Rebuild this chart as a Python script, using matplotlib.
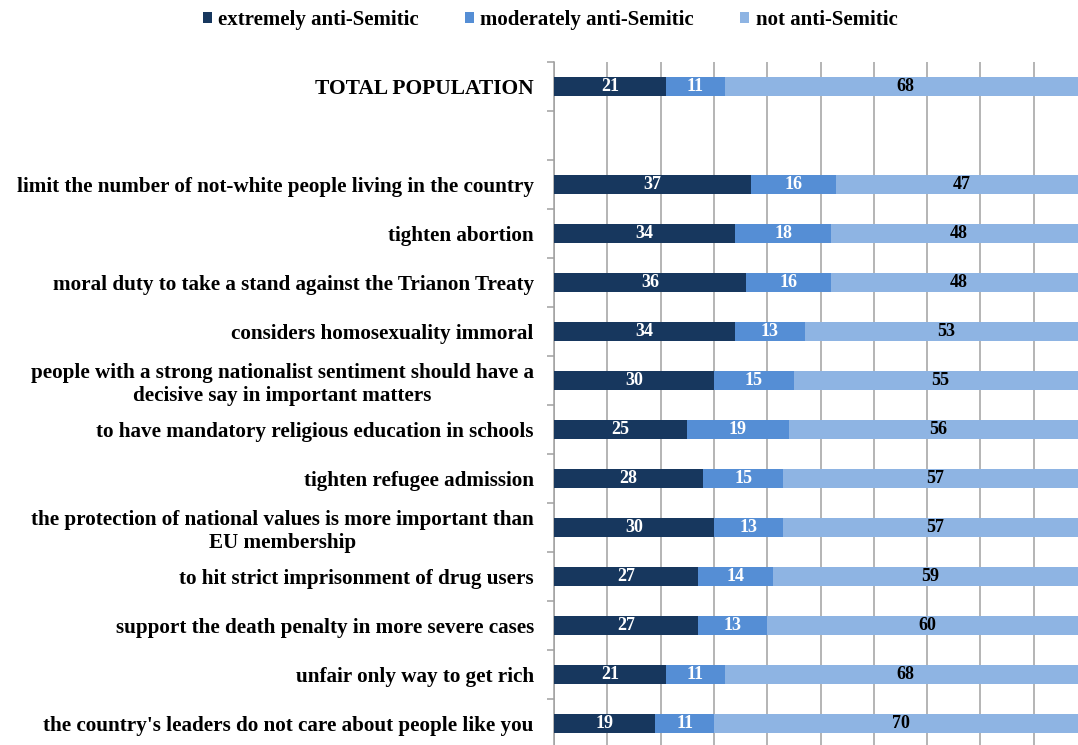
import numpy as np
import matplotlib
matplotlib.use("Agg")
import matplotlib.pyplot as plt
from matplotlib.patches import Patch

# Survey items, top to bottom (blank row separates the total from the items)
categories = [
    "TOTAL POPULATION",
    "",
    "limit the number of not-white people living in the country",
    "tighten abortion",
    "moral duty to take a stand against the Trianon Treaty",
    "considers homosexuality immoral",
    "people with a strong nationalist sentiment should have a\ndecisive say in important matters",
    "to have mandatory religious education in schools",
    "tighten refugee admission",
    "the protection of national values is more important than\nEU membership",
    "to hit strict imprisonment of drug users",
    "support the death penalty in more severe cases",
    "unfair only way to get rich",
    "the country's leaders do not care about people like you",
]

extremely = [21, np.nan, 37, 34, 36, 34, 30, 25, 28, 30, 27, 27, 21, 19]
moderately = [11, np.nan, 16, 18, 16, 13, 15, 19, 15, 13, 14, 13, 11, 11]
not_anti = [68, np.nan, 47, 48, 48, 53, 55, 56, 57, 57, 59, 60, 68, 70]

series_names = ["extremely anti-Semitic", "moderately anti-Semitic", "not anti-Semitic"]
colors = ["#17375E", "#558ED5", "#8EB4E3"]
text_colors = ["white", "white", "black"]

plt.rcParams["font.family"] = ["Liberation Serif", "DejaVu Serif"]
plt.rcParams["font.weight"] = "bold"

W, H = 1078, 745
fig = plt.figure(figsize=(W / 100, H / 100), dpi=100)
ax_left, ax_right = 554, 1087
ax_top, ax_bottom = 62, 748
ax = fig.add_axes([ax_left / W, (H - ax_bottom) / H,
                   (ax_right - ax_left) / W, (ax_bottom - ax_top) / H])

n = len(categories)
y = np.arange(n)
left = np.zeros(n)
series = [extremely, moderately, not_anti]
for vals, col, tcol, name in zip(series, colors, text_colors, series_names):
    v = np.array(vals, dtype=float)
    vz = np.nan_to_num(v)
    ax.barh(y, vz, left=left, height=0.39, color=col, label=name, zorder=3)
    for yi, (l, w) in enumerate(zip(left, v)):
        if not np.isnan(w):
            ax.text(l + w / 2, yi, f"{int(w)}", ha="center", va="center",
                    color=tcol, fontsize=13, fontweight="bold", zorder=4)
    left = left + vz

ax.set_xlim(0, 100)
ax.set_ylim(n - 0.5, -0.5)
ax.set_xticks(np.arange(0, 101, 10))
ax.xaxis.grid(True, color="#a0a0a0", linewidth=1.1, zorder=0)
ax.tick_params(axis="x", length=0, labelbottom=False)

ax.set_yticks(y)
ax.set_yticklabels(categories)
ax.set_yticks(np.arange(-0.5, n, 1), minor=True)
ax.tick_params(axis="y", which="major", length=0, pad=14.5)
ax.tick_params(axis="y", which="minor", length=5, color="#a0a0a0", width=1.1)
for lbl in ax.get_yticklabels():
    lbl.set_multialignment("center")
    lbl.set_fontsize(15.2)
    lbl.set_fontweight("bold")
    lbl.set_linespacing(1.2)
ax.get_yticklabels()[0].set_fontsize(15.5)

for s in ["top", "right", "bottom"]:
    ax.spines[s].set_visible(False)
ax.spines["left"].set_color("#a0a0a0")
ax.spines["left"].set_linewidth(1.1)

handles = [Patch(facecolor=c, label=nm) for c, nm in zip(colors, series_names)]
fig.legend(handles=handles, loc="center", bbox_to_anchor=(550 / W, 1 - 20 / H),
           ncol=3, frameon=False, fontsize=15, handlelength=0.45, handleheight=0.45,
           handletextpad=0.3, columnspacing=2.2)

fig.savefig("out.png", dpi=100)
